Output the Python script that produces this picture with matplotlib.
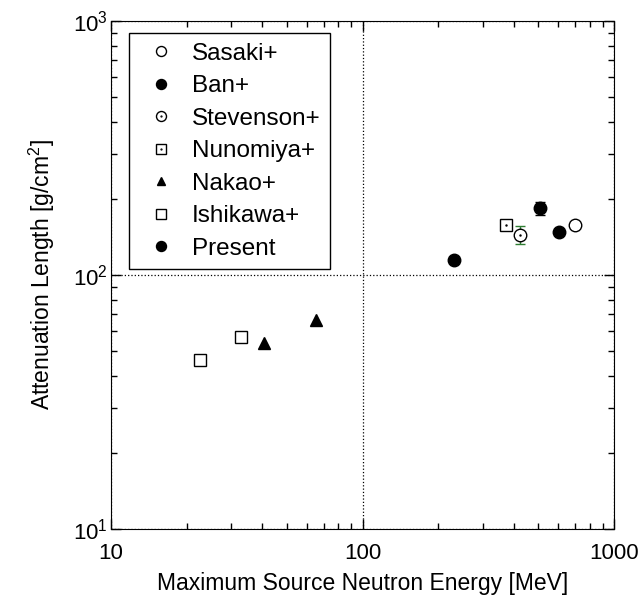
import matplotlib
matplotlib.use("Agg")
import matplotlib.pyplot as plt
from matplotlib.legend_handler import HandlerTuple

plt.rcParams['font.family'] = ['Liberation Sans', 'DejaVu Sans']
plt.rcParams['mathtext.fontset'] = 'custom'
plt.rcParams['mathtext.rm'] = 'Liberation Sans'
plt.rcParams['mathtext.it'] = 'Liberation Sans:italic'

# measured attenuation lengths vs. maximum source neutron energy
sasaki_e, sasaki_l = [702], [157]
ban_e, ban_l, ban_err = [506], [183], [10]
stevenson_e, stevenson_l, stevenson_err = [424], [144], [12]
nunomiya_e, nunomiya_l = [372], [157]
nakao_e, nakao_l = [40.4, 65.6], [54, 66.5]
ishikawa_e, ishikawa_l = [22.5, 32.8], [46.2, 57.0]
present_e, present_l = [232, 603], [115, 148]

fig, ax = plt.subplots(figsize=(6.43, 5.99), dpi=100)
fig.subplots_adjust(left=0.1726, right=0.955, top=0.965, bottom=0.1169)

ms = 9
h_sasaki, = ax.plot(sasaki_e, sasaki_l, 'o', ms=ms, mfc='white', mec='black', mew=1.0)
ax.errorbar(ban_e, ban_l, yerr=ban_err, fmt='none', ecolor='black', capsize=3.5, elinewidth=1)
h_ban, = ax.plot(ban_e, ban_l, 'o', ms=ms, color='black')
ax.errorbar(stevenson_e, stevenson_l, yerr=stevenson_err, fmt='none', ecolor='#2e7d32',
            capsize=3.5, elinewidth=1, capthick=1)
h_stev, = ax.plot(stevenson_e, stevenson_l, 'o', ms=ms, mfc='white', mec='black', mew=1.0)
h_stev_dot, = ax.plot(stevenson_e, stevenson_l, '.', ms=1.5, color='black')
h_nuno, = ax.plot(nunomiya_e, nunomiya_l, 's', ms=8.5, mfc='white', mec='black', mew=1.0)
h_nuno_dot, = ax.plot(nunomiya_e, nunomiya_l, '.', ms=1.5, color='black')
h_nakao, = ax.plot(nakao_e, nakao_l, '^', ms=8, color='black')
h_ishi, = ax.plot(ishikawa_e, ishikawa_l, 's', ms=8.5, mfc='white', mec='black', mew=1.0)
h_present, = ax.plot(present_e, present_l, 'o', ms=ms, color='black')

ax.set_xscale('log')
ax.set_yscale('log')
ax.set_xlim(10, 1000)
ax.set_ylim(10, 1000)
ax.set_xticks([10, 100, 1000])
ax.set_xticklabels(['10', '100', '1000'])
ax.set_yticks([10, 100, 1000])
ax.set_yticklabels([r'$10^{1}$', r'$10^{2}$', r'$10^{3}$'])
ax.tick_params(which='both', direction='in', top=True, right=True, labelsize=16)
ax.tick_params(which='major', length=7, width=1)
ax.tick_params(which='minor', length=4, width=1)
ax.tick_params(axis='x', which='major', pad=10)
ax.tick_params(axis='y', which='major', pad=2)
ax.grid(True, which='major', ls=':', color='black', lw=0.9)

ax.set_xlabel('Maximum Source Neutron Energy [MeV]', fontsize=16.5, labelpad=6)
ax.set_ylabel(r'Attenuation Length [g/cm$^{2}$]', fontsize=16.5, labelpad=12)

handles = [h_sasaki, h_ban, (h_stev, h_stev_dot), (h_nuno, h_nuno_dot), h_nakao, h_ishi, h_present]
labels = ['Sasaki+', 'Ban+', 'Stevenson+', 'Nunomiya+', 'Nakao+', 'Ishikawa+', 'Present']
leg = ax.legend(handles, labels, loc='upper left', fontsize=17.5, markerscale=0.8,
                handler_map={tuple: HandlerTuple(ndivide=1)},
                fancybox=False, edgecolor='black', framealpha=1,
                bbox_to_anchor=(0.035, 0.976), borderaxespad=0,
                labelspacing=0.43, handlelength=1.9, handletextpad=0.3, borderpad=0.4)
leg.get_frame().set_linewidth(1.0)

fig.savefig('out.png', dpi=100)
